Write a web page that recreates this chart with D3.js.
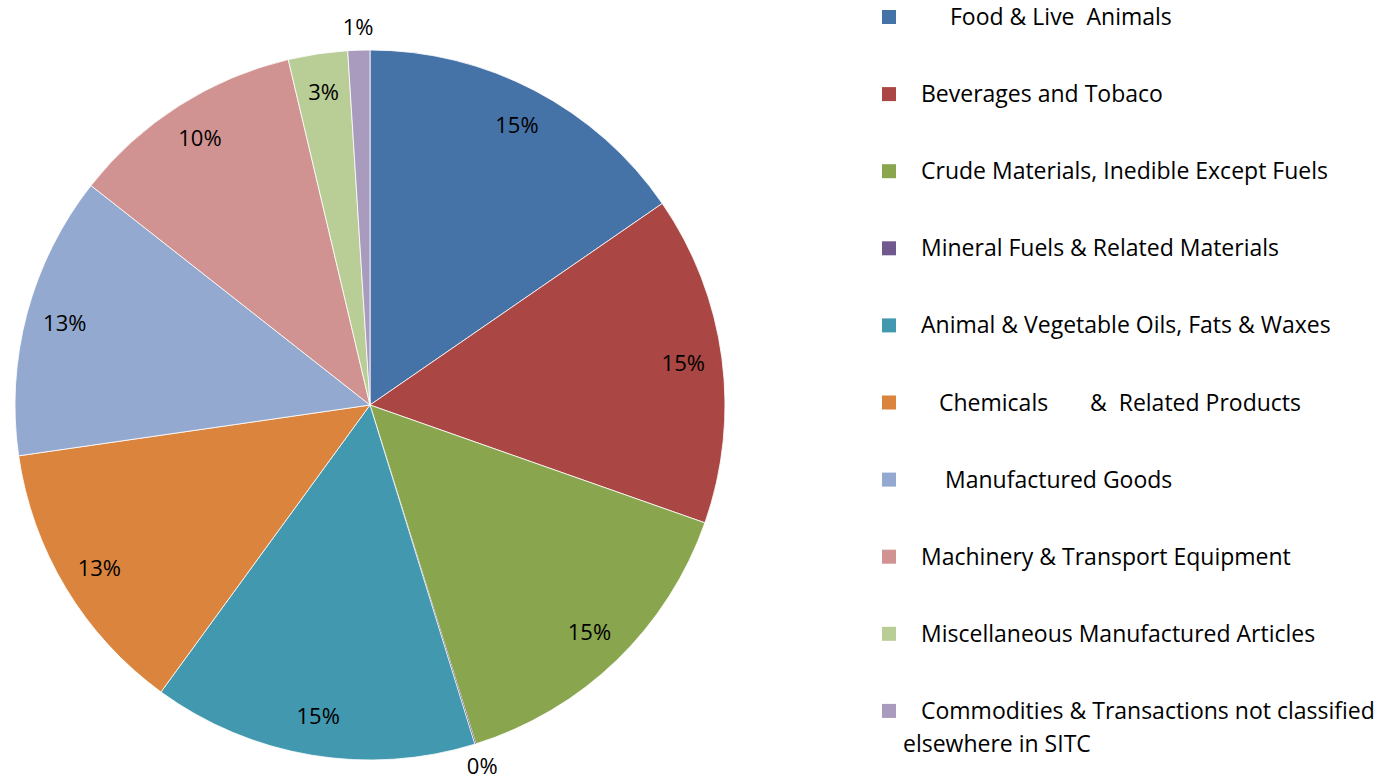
<!DOCTYPE html>
<html lang="en">
  <head>
    <meta charset="utf-8">
    <title>SITC_Share_Pie</title>
    <script src="https://d3js.org/d3.v7.js"></script>
    <style>
      body { margin: 0; background: white; }
      text { font-family: "Open Sans", Lato, sans-serif; fill: #000; }
    </style>
  </head>

  <body>
  <script>

// data (percent shares, clockwise from 12 o'clock)

  var categories = ["Food & Live  Animals",
                    "Beverages and Tobaco",
                    "Crude Materials, Inedible Except Fuels",
                    "Mineral Fuels & Related Materials",
                    "Animal & Vegetable Oils, Fats & Waxes",
                    "Chemicals       &  Related Products",
                    "Manufactured Goods",
                    "Machinery & Transport Equipment",
                    "Miscellaneous Manufactured Articles",
                    "Commodities & Transactions not classified"];
  var legendIndent = [29, 0, 0, 0, 0, 18, 24, 0, 0, 0];
  var values = [15.4, 15.0, 14.8, 0.05, 14.8, 12.7, 12.9, 10.7, 2.7, 1.0];
  var pctLabels = ["15%", "15%", "15%", "0%", "15%", "13%", "13%", "10%", "3%", "1%"];
  var colors = ["#4572A7", "#AA4643", "#89A54E", "#71588F", "#4198AF",
                "#DB843D", "#93A9CF", "#D19392", "#B9CD96", "#A99BBD"];

  var w = 1391;
  var h = 784;
  var cx = 370, cy = 405, radius = 355;

  var svg = d3.select("body")
    .append("svg")
      .attr("width", w)
      .attr("height", h);

  var pie = d3.pie()
      .sort(null)
      .value(d => d.value);

  var table = categories.map((c, i) => ({name: c, value: values[i], label: pctLabels[i], color: colors[i]}));
  var arcs = pie(table);

  var arc = d3.arc().innerRadius(0).outerRadius(radius);
  var inLabel = d3.arc().innerRadius(316).outerRadius(316);
  var outLabel = d3.arc().innerRadius(378).outerRadius(378);

  var g = svg.append("g")
      .attr("transform", `translate(${cx}, ${cy})`);

  g.selectAll("path")
      .data(arcs)
    .enter().append("path")
      .attr("d", arc)
      .attr("fill", d => d.data.color)
      .attr("stroke", "white")
      .attr("stroke-width", d => d.data.value < 0.5 ? 0 : 0.8);

// small slices get their label outside the pie

  g.selectAll("text")
      .data(arcs)
    .enter().append("text")
      .attr("transform", d => {
        var p = (d.data.value < 2 ? outLabel : inLabel).centroid(d);
        return `translate(${p[0]}, ${p[1]})`;
      })
      .attr("text-anchor", "middle")
      .attr("dy", "0.35em")
      .style("font-size", "22px")
      .text(d => d.data.label);

// legend

  var legend = svg.append("g")
      .attr("transform", "translate(882, 17)");

  var rowH = 77.1;

  var rows = legend.selectAll("g")
      .data(table)
    .enter().append("g")
      .attr("transform", (d, i) => `translate(0, ${i * rowH})`);

  rows.append("rect")
      .attr("x", 0)
      .attr("y", -7)
      .attr("width", 14)
      .attr("height", 14)
      .attr("fill", d => d.color);

  rows.append("text")
      .attr("x", (d, i) => 39 + legendIndent[i])
      .attr("dy", "0.35em")
      .style("font-size", "23px")
      .style("white-space", "pre")
      .text(d => d.name);

  legend.append("text")
      .attr("x", 21)
      .attr("y", 9 * rowH + 33)
      .attr("dy", "0.35em")
      .style("font-size", "23px")
      .text("elsewhere in SITC");

  </script>
  </body>

</html>
